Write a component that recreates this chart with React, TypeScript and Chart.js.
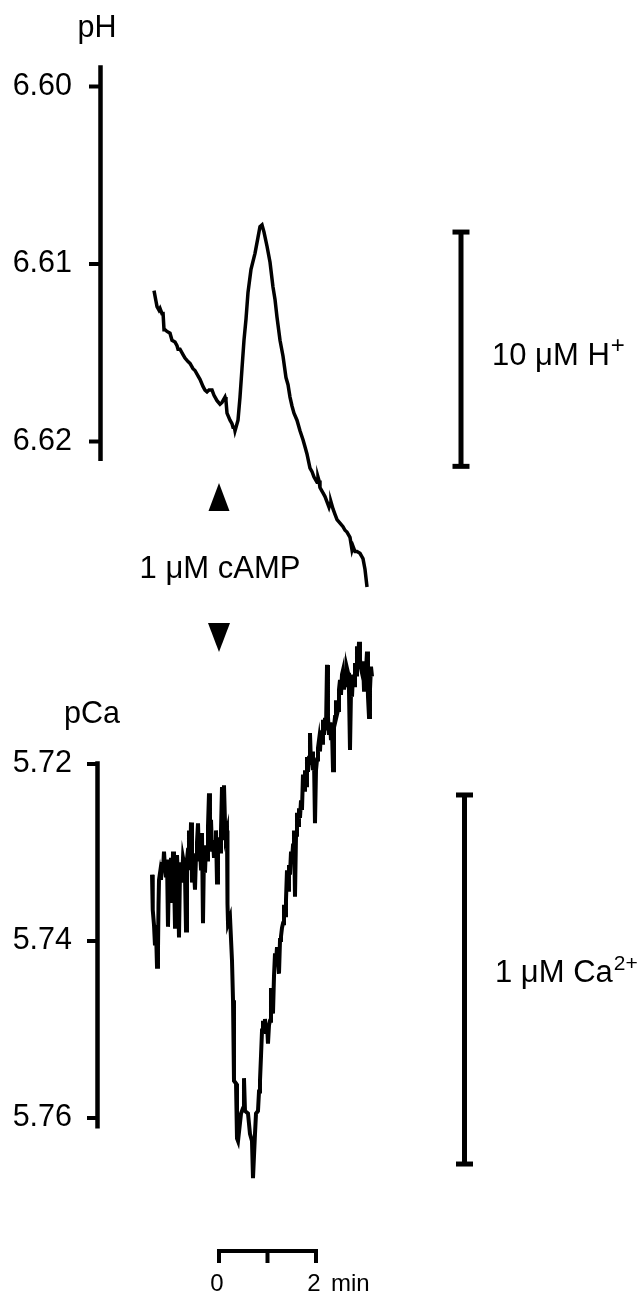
import React, { useEffect, useRef } from "react";
import { Chart, registerables } from "chart.js";
Chart.register(...registerables);

// ---- data (time in min relative to cAMP addition) ----
const phTimes = [
  -1.34, -1.299, -1.278, -1.237, -1.216, -1.175, -1.155, -1.134, -1.113, -1.072, -1.01, -0.969, -0.907, -0.866,
  -0.845, -0.804, -0.742, -0.701, -0.639, -0.598, -0.536, -0.495, -0.433, -0.392, -0.33, -0.289, -0.247, -0.206,
  -0.144, -0.103, -0.082, -0.041, 0.021, 0.062, 0.103, 0.124, 0.144, 0.165, 0.227, 0.268, 0.289, 0.309, 0.33,
  0.351, 0.392, 0.433, 0.474, 0.515, 0.557, 0.598, 0.66, 0.742, 0.804, 0.845, 0.887, 0.928, 0.99, 1.052, 1.113,
  1.155, 1.196, 1.258, 1.32, 1.381, 1.423, 1.464, 1.505, 1.546, 1.608, 1.67, 1.732, 1.773, 1.814, 1.876, 1.918,
  1.959, 2.021, 2.041, 2.062, 2.082, 2.144, 2.186, 2.227, 2.268, 2.289, 2.309, 2.351, 2.392, 2.433, 2.495, 2.557,
  2.598, 2.639, 2.701, 2.742, 2.763, 2.804, 2.845, 2.907, 2.969, 3.01, 3.052,
];
const phValues = [
  6.6115, 6.6121, 6.6124, 6.6126, 6.6125, 6.6128, 6.6127, 6.6137, 6.6137, 6.6138, 6.6139, 6.6143, 6.6144, 6.6146,
  6.6148, 6.6148, 6.6151, 6.6153, 6.6155, 6.6156, 6.6159, 6.6160, 6.6163, 6.6165, 6.6169, 6.6171, 6.6172, 6.6171,
  6.6171, 6.6174, 6.6175, 6.6177, 6.6179, 6.6178, 6.6176, 6.6175, 6.6177, 6.6184, 6.6188, 6.6190, 6.6192, 6.6191,
  6.6194, 6.6192, 6.6188, 6.6175, 6.6159, 6.6143, 6.6131, 6.6116, 6.6103, 6.6094, 6.6085, 6.6079, 6.6078, 6.6082,
  6.609, 6.6099, 6.6113, 6.612, 6.613, 6.6143, 6.6152, 6.6164, 6.6168, 6.6175, 6.6180, 6.6184, 6.6188, 6.6194,
  6.6199, 6.6203, 6.6207, 6.6215, 6.6217, 6.622, 6.6223, 6.6220, 6.6222, 6.6226, 6.6229, 6.6231, 6.6234, 6.6237,
  6.6235, 6.6234, 6.6238, 6.6241, 6.6244, 6.6246, 6.6248, 6.6250, 6.6251, 6.6254, 6.6261, 6.6259, 6.6262, 6.6262,
  6.6263, 6.6266, 6.6272, 6.6282,
];

const caTimes = [
  -1.381, -1.371, -1.361, -1.34, -1.32, -1.299, -1.278, -1.258, -1.247, -1.237, -1.216, -1.196, -1.175, -1.155,
  -1.134, -1.113, -1.093, -1.072, -1.052, -1.031, -1.01, -0.99, -0.969, -0.948, -0.928, -0.907, -0.887, -0.866,
  -0.845, -0.825, -0.804, -0.784, -0.763, -0.742, -0.722, -0.701, -0.68, -0.66, -0.639, -0.619, -0.598, -0.577,
  -0.557, -0.536, -0.515, -0.495, -0.474, -0.454, -0.433, -0.412, -0.392, -0.371, -0.351, -0.33, -0.309, -0.289,
  -0.268, -0.247, -0.227, -0.206, -0.186, -0.165, -0.144, -0.124, -0.103, -0.082, -0.062, -0.041, -0.021, 0,
  0.021, 0.041, 0.062, 0.082, 0.103, 0.124, 0.144, 0.165, 0.175, 0.186, 0.227, 0.268, 0.289, 0.309, 0.351, 0.371,
  0.392, 0.454, 0.495, 0.515, 0.536, 0.598, 0.639, 0.68, 0.701, 0.742, 0.763, 0.804, 0.825, 0.845, 0.866, 0.887,
  0.907, 0.928, 0.948, 0.969, 0.99, 1.01, 1.031, 1.052, 1.072, 1.093, 1.113, 1.134, 1.155, 1.175, 1.196, 1.216,
  1.237, 1.258, 1.278, 1.299, 1.32, 1.34, 1.361, 1.381, 1.402, 1.423, 1.443, 1.464, 1.485, 1.505, 1.526, 1.546,
  1.567, 1.588, 1.608, 1.629, 1.649, 1.67, 1.691, 1.711, 1.732, 1.753, 1.773, 1.794, 1.814, 1.835, 1.856, 1.876,
  1.897, 1.918, 1.938, 1.959, 1.979, 2.0, 2.021, 2.041, 2.062, 2.082, 2.103, 2.124, 2.144, 2.165, 2.186, 2.206,
  2.227, 2.247, 2.268, 2.289, 2.309, 2.33, 2.351, 2.371, 2.392, 2.412, 2.433, 2.454, 2.474, 2.495, 2.515, 2.536,
  2.557, 2.577, 2.598, 2.619, 2.639, 2.66, 2.68, 2.701, 2.722, 2.742, 2.763, 2.784, 2.804, 2.825, 2.845, 2.866,
  2.887, 2.907, 2.928, 2.948, 2.969, 2.99, 3.01, 3.031, 3.052, 3.072, 3.093, 3.113, 3.134, 3.155,
];
const caValues = [
  5.7325, 5.7354, 5.7365, 5.7382, 5.7405, 5.7388, 5.7429, 5.741, 5.7359, 5.7331, 5.7323, 5.7331, 5.7311, 5.732,
  5.7299, 5.7318, 5.7328, 5.7308, 5.7384, 5.732, 5.7334, 5.7306, 5.7357, 5.7299, 5.7325, 5.7384, 5.7314, 5.7303,
  5.7331, 5.7396, 5.732, 5.7311, 5.7334, 5.7306, 5.7312, 5.7325, 5.7388, 5.7308, 5.7297, 5.7275, 5.732, 5.7266,
  5.7334, 5.7305, 5.732, 5.7342, 5.7303, 5.7289, 5.7267, 5.7308, 5.7297, 5.7318, 5.7278, 5.738, 5.7297, 5.7323,
  5.7292, 5.7308, 5.7271, 5.7233, 5.7286, 5.7263, 5.7297, 5.7286, 5.7306, 5.7297, 5.7275, 5.7334, 5.7292, 5.7283,
  5.7299, 5.7275, 5.7226, 5.7286, 5.7224, 5.7267, 5.728, 5.7275, 5.7358, 5.738, 5.7373, 5.7422, 5.7467, 5.7558,
  5.7561, 5.7623, 5.7626, 5.7595, 5.7589, 5.7555, 5.7592, 5.7595, 5.7618, 5.7626, 5.7668, 5.7618, 5.7595, 5.7592,
  5.757, 5.7558, 5.753, 5.7501, 5.749, 5.75, 5.7488, 5.7505, 5.7493, 5.7516, 5.7495, 5.749, 5.7453, 5.7475, 5.7482,
  5.744, 5.7414, 5.7425, 5.7407, 5.742, 5.7437, 5.7399, 5.7395, 5.7385, 5.738, 5.7359, 5.7371, 5.7354, 5.732,
  5.7342, 5.7314, 5.7325, 5.7299, 5.7308, 5.7292, 5.7275, 5.735, 5.728, 5.7255, 5.7269, 5.725, 5.7261, 5.7241,
  5.7252, 5.7212, 5.7229, 5.7207, 5.7224, 5.7192, 5.7209, 5.7193, 5.7165, 5.7201, 5.7186, 5.7207, 5.7195, 5.7267,
  5.7207, 5.7195, 5.7182, 5.7173, 5.7186, 5.7162, 5.7176, 5.715, 5.7167, 5.7148, 5.7162, 5.7088, 5.7147, 5.7167,
  5.7153, 5.7173, 5.7162, 5.7207, 5.7158, 5.7147, 5.7128, 5.7144, 5.7139, 5.7116, 5.7105, 5.7122, 5.7099, 5.7094,
  5.7116, 5.7096, 5.7111, 5.7092, 5.7097, 5.7116, 5.7184, 5.7116, 5.7124, 5.7099, 5.7111, 5.7086, 5.7099, 5.7067,
  5.7088, 5.7062, 5.7082, 5.7092, 5.7097, 5.7084, 5.7116, 5.7108, 5.7093, 5.7073, 5.7124, 5.7147, 5.7116, 5.709,
  5.7101,
];

const phTickValues = [6.6, 6.61, 6.62];
const caTickValues = [5.72, 5.74, 5.76];
const phAxisExtent = [6.5988, 6.6211];
const caAxisExtent = [5.7197, 5.7612];
const hBarExtent = [6.6082, 6.6214];
const caBarExtent = [5.7235, 5.7652];
const timeBarTicks = [0, 1, 2];
const timeBarLabels = ["0", "", "2"];
const cAMPTime = 0;

const FONT = '"Liberation Sans", Arial, Helvetica, sans-serif';
const W = 641;
const H = 1292;

const decorPlugin = {
  id: "decor",
  afterDatasetsDraw(chart: any) {
    const ctx: CanvasRenderingContext2D = chart.ctx;
    const xs = chart.scales.x;
    const yp = chart.scales.yPH;
    const yc = chart.scales.yCa;
    ctx.save();
    ctx.fillStyle = "#000";
    ctx.strokeStyle = "#000";
    ctx.lineCap = "butt";
    const line = (x1: number, y1: number, x2: number, y2: number, w: number) => {
      ctx.lineWidth = w;
      ctx.beginPath();
      ctx.moveTo(x1, y1);
      ctx.lineTo(x2, y2);
      ctx.stroke();
    };
    const font = (s: number) => `${s}px ${FONT}`;

    // pH axis
    const phX = 100.5;
    line(phX, yp.getPixelForValue(phAxisExtent[0]), phX, yp.getPixelForValue(phAxisExtent[1]), 4.5);
    ctx.font = font(30.5);
    ctx.textAlign = "right";
    ctx.textBaseline = "middle";
    phTickValues.forEach((v) => {
      const y = yp.getPixelForValue(v);
      line(89, y, phX, y, 4);
      ctx.fillText(v.toFixed(2), 72, y);
    });
    ctx.textAlign = "center";
    ctx.textBaseline = "alphabetic";
    ctx.fillText("pH", 97, 37);

    // pCa axis
    const caX = 97.5;
    line(caX, yc.getPixelForValue(caAxisExtent[0]), caX, yc.getPixelForValue(caAxisExtent[1]), 4.5);
    ctx.textAlign = "right";
    ctx.textBaseline = "middle";
    caTickValues.forEach((v) => {
      const y = yc.getPixelForValue(v);
      line(87, y, caX, y, 4);
      ctx.fillText(v.toFixed(2), 72, y);
    });
    ctx.textAlign = "center";
    ctx.textBaseline = "alphabetic";
    ctx.fillText("pCa", 92, 723);

    // calibration bars
    const bar = (x: number, y1: number, y2: number) => {
      line(x, y1, x, y2, 5);
      line(x - 8.5, y1, x + 8.5, y1, 5);
      line(x - 8.5, y2, x + 8.5, y2, 5);
    };
    bar(461, yp.getPixelForValue(hBarExtent[0]), yp.getPixelForValue(hBarExtent[1]));
    bar(464.5, yc.getPixelForValue(caBarExtent[0]), yc.getPixelForValue(caBarExtent[1]));

    const labelWithSup = (main: string, sup: string, x: number, y: number, supSize: number) => {
      ctx.textAlign = "left";
      ctx.textBaseline = "alphabetic";
      ctx.font = font(31);
      ctx.fillText(main, x, y);
      const w = ctx.measureText(main).width;
      ctx.font = font(supSize);
      ctx.fillText(sup, x + w + 1, y - 12);
    };
    labelWithSup("10 \u03bcM H", "+", 492, 365, 24);
    labelWithSup("1 \u03bcM Ca", "2+", 495, 982, 21);

    // cAMP arrows and label
    const ax = xs.getPixelForValue(cAMPTime);
    ctx.beginPath();
    ctx.moveTo(ax, 483);
    ctx.lineTo(ax + 10.5, 511);
    ctx.lineTo(ax - 10.5, 511);
    ctx.closePath();
    ctx.fill();
    ctx.beginPath();
    ctx.moveTo(ax - 11, 623);
    ctx.lineTo(ax + 11, 623);
    ctx.lineTo(ax, 652);
    ctx.closePath();
    ctx.fill();
    ctx.font = font(31);
    ctx.textAlign = "center";
    ctx.textBaseline = "middle";
    ctx.fillText("1 \u03bcM cAMP", 220, 569);

    // time bar
    const tbY = 1251;
    const t0 = xs.getPixelForValue(timeBarTicks[0]);
    const t2 = xs.getPixelForValue(timeBarTicks[timeBarTicks.length - 1]);
    line(t0 - 2, tbY, t2 + 2, tbY, 4);
    timeBarTicks.forEach((t) => {
      const px = xs.getPixelForValue(t);
      line(px, tbY - 2, px, 1263, 4);
    });
    ctx.font = font(24);
    ctx.textAlign = "center";
    ctx.textBaseline = "alphabetic";
    timeBarTicks.forEach((t, i) => {
      if (timeBarLabels[i]) ctx.fillText(timeBarLabels[i], xs.getPixelForValue(t) - 2, 1291);
    });
    ctx.textAlign = "left";
    ctx.fillText("min", t2 + 15, 1291);
    ctx.restore();
  },
};

export default function App() {
  const ref = useRef<HTMLCanvasElement | null>(null);
  useEffect(() => {
    if (!ref.current) return;
    const chart = new Chart(ref.current, {
      type: "scatter",
      data: {
        datasets: [
          {
            label: "pH",
            data: phTimes.map((t, i) => ({ x: t, y: phValues[i] })),
            yAxisID: "yPH",
            showLine: true,
            borderColor: "#000",
            borderWidth: 3.5,
            pointRadius: 0,
            tension: 0,
          },
          {
            label: "pCa",
            data: caTimes.map((t, i) => ({ x: t, y: caValues[i] })),
            yAxisID: "yCa",
            showLine: true,
            borderColor: "#000",
            borderWidth: 4,
            pointRadius: 0,
            tension: 0,
          },
        ],
      },
      options: {
        animation: false,
        responsive: false,
        devicePixelRatio: 1,
        layout: { padding: 0 },
        plugins: { legend: { display: false }, tooltip: { enabled: false }, title: { display: false } },
        scales: {
          x: { type: "linear", display: false, min: -4.51546, max: 8.70103 },
          yPH: { type: "linear", display: false, reverse: true, min: 6.5951268, max: 6.6679155 },
          yCa: { type: "linear", display: false, reverse: true, min: 5.633672, max: 5.779661 },
        },
      },
      plugins: [decorPlugin],
    });
    return () => chart.destroy();
  }, []);
  return (
    <div style={{ position: "absolute", left: 0, top: 0, width: W, height: H, background: "#fff" }}>
      <canvas ref={ref} width={W} height={H} style={{ width: W, height: H, display: "block" }} />
    </div>
  );
}
